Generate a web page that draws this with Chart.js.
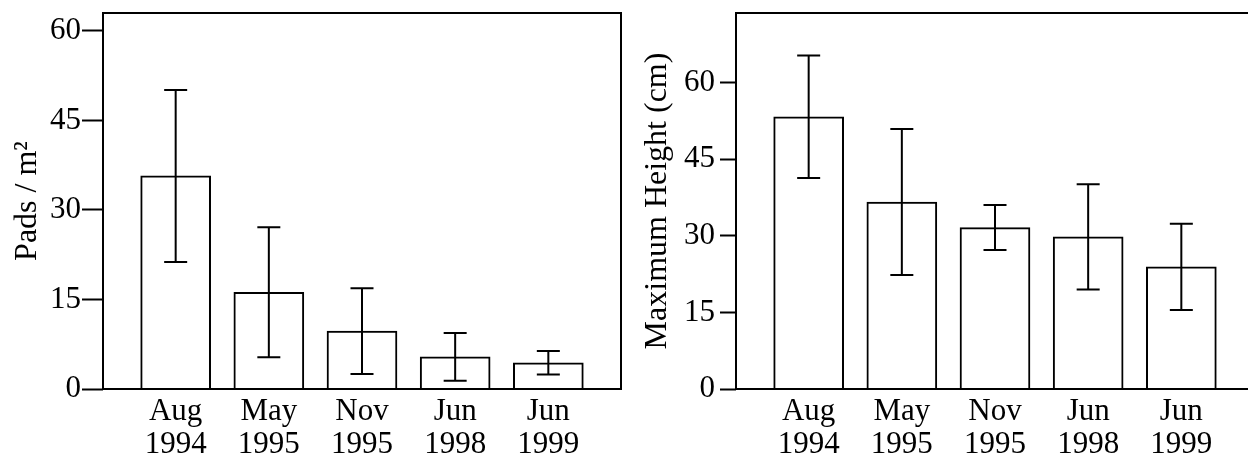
<!DOCTYPE html>
<html>
<head>
<meta charset="utf-8">
<script src="https://cdn.jsdelivr.net/npm/chart.js@4/dist/chart.umd.min.js"></script>
<style>
  html, body { margin: 0; padding: 0; background: #fff; overflow: hidden; width: 1248px; height: 456px; }
  .panel { position: absolute; top: 0; height: 456px; }
  #left { left: 0; width: 630px; }
  #right { left: 624px; width: 640px; }
</style>
</head>
<body>
<div class="panel" id="left"><canvas id="padsChart"></canvas></div>
<div class="panel" id="right"><canvas id="heightChart"></canvas></div>
<script>
// --- DATA ---
const months = ["Aug", "May", "Nov", "Jun", "Jun"];
const years = ["1994", "1995", "1995", "1998", "1999"];
const padsMean = [35.7, 16.2, 9.7, 5.4, 4.4];
const padsErr = [14.4, 10.9, 7.2, 4.0, 1.95];
const heightMean = [53.3, 36.6, 31.6, 29.8, 23.9];
const heightErr = [12.0, 14.3, 4.4, 10.3, 8.45];
const yTicks = [0, 15, 30, 45, 60];

const family = "'Liberation Serif', 'Times New Roman', serif";
const tickFont = { family, size: 31 };
const titleFont = { family, size: 32 };

// --- ERROR BARS + FRAME ---
const errorBars = {
  id: "errorBars",
  afterDatasetsDraw(chart, args, opts) {
    const { ctx, chartArea: a, scales: { x, y } } = chart;
    const means = chart.data.datasets[0].data;
    ctx.save();
    ctx.strokeStyle = "#000";
    ctx.lineWidth = 2;
    opts.errors.forEach((e, i) => {
      const cx = x.getPixelForValue(i);
      const top = y.getPixelForValue(means[i].y + e);
      const bot = y.getPixelForValue(means[i].y - e);
      const half = opts.cap / 2;
      ctx.beginPath();
      ctx.moveTo(cx, top); ctx.lineTo(cx, bot);
      ctx.moveTo(cx - half, top); ctx.lineTo(cx + half, top);
      ctx.moveTo(cx - half, bot); ctx.lineTo(cx + half, bot);
      ctx.stroke();
    });
    ctx.strokeRect(a.left, a.top, a.right - a.left, a.bottom - a.top);
    ctx.restore();
  }
};

function makeChart(id, means, errs, yMax, title, cfg) {
  new Chart(document.getElementById(id), {
    type: "bar",
    data: {
      datasets: [{
        data: means.map((v, i) => ({ x: i, y: v })),
        backgroundColor: "#fff",
        borderColor: "#000",
        borderWidth: 2,
        barThickness: 70,
      }],
    },
    plugins: [errorBars],
    options: {
      responsive: true,
      maintainAspectRatio: false,
      animation: false,
      layout: { padding: { top: 13, right: cfg.padRight, left: 0, bottom: 0 } },
      plugins: {
        legend: { display: false },
        tooltip: { enabled: false },
        errorBars: { errors: errs, cap: 23 },
      },
      scales: {
        x: {
          type: "linear",
          offset: false,
          min: -0.78,
          max: 4.78,
          afterBuildTicks: (s) => { s.ticks = months.map((m, i) => ({ value: i })); },
          afterFit: (s) => { s.height = 67; s.paddingLeft = 0; s.paddingRight = 0; },
          grid: { display: false },
          border: { display: false },
          ticks: {
            font: { ...tickFont, lineHeight: 1.08 },
            color: "#000",
            padding: -2,
            maxRotation: 0,
            autoSkip: false,
            callback: (v) => [months[v], years[v]],
          },
        },
        y: {
          min: 0,
          max: yMax,
          afterBuildTicks: (s) => { s.ticks = yTicks.map((v) => ({ value: v })); },
          afterFit: (s) => { s.width = cfg.axisWidth; s.paddingTop = 0; s.paddingBottom = 0; },
          grid: { drawOnChartArea: false, tickLength: cfg.tickLen, tickWidth: 2, tickColor: "#000" },
          border: { display: false },
          ticks: { font: tickFont, color: "#000", padding: cfg.tickPad },
          title: {
            display: true,
            text: title,
            font: titleFont,
            color: "#000",
            padding: { top: cfg.titlePad, bottom: 0 },
          },
        },
      },
    },
  });
}

makeChart("padsChart", padsMean, padsErr, 63, "Pads / m²",
  { axisWidth: 103, padRight: 9, tickLen: 21, tickPad: 1, titlePad: 8 });
makeChart("heightChart", heightMean, heightErr, 73.6, "Maximum Height (cm)",
  { axisWidth: 112, padRight: 10, tickLen: 16, tickPad: 5, titlePad: 14 });
</script>
</body>
</html>
